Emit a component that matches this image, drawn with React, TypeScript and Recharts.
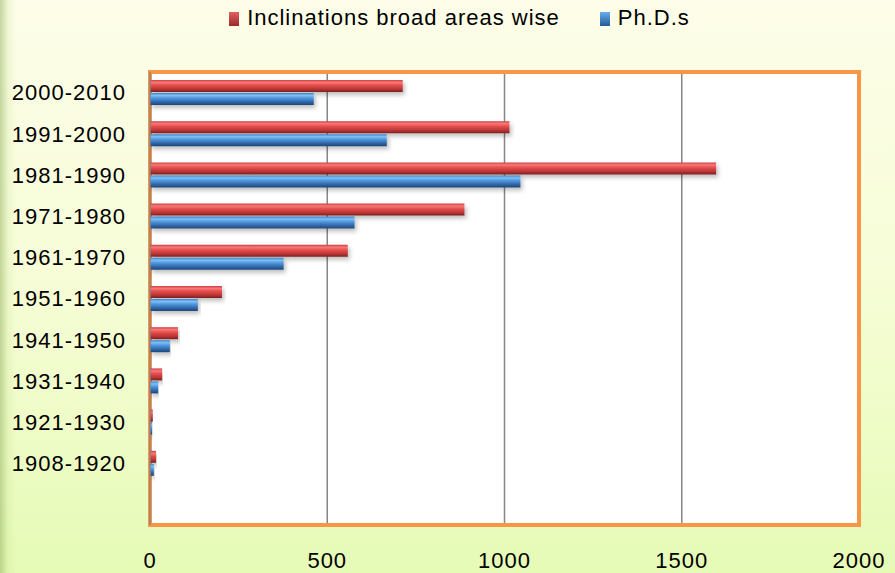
import * as R from 'recharts';
import { BarChart, Bar, XAxis, YAxis, CartesianGrid, Legend } from 'recharts';

const decades = [
  '2000-2010',
  '1991-2000',
  '1981-1990',
  '1971-1980',
  '1961-1970',
  '1951-1960',
  '1941-1950',
  '1931-1940',
  '1921-1930',
  '1908-1920',
];
const inclinations = [713, 1014, 1597, 887, 558, 203, 79, 34, 8, 17];
const phds = [462, 668, 1045, 577, 377, 135, 56, 23, 6, 11];
const xTicks = [0, 500, 1000, 1500, 2000];

const seriesNames = ['Inclinations broad areas wise', 'Ph.D.s'];

const data = decades.map((d, i) => ({ decade: d, inclinations: inclinations[i], phds: phds[i] }));

const font = '"Liberation Sans", Arial, sans-serif';

const usePlotArea: () => any = (R as any).usePlotArea || (() => null);

// orange frame around the plot area (padding included)
function PlotFrame() {
  const area = usePlotArea();
  if (!area) return null;
  return (
    <rect
      x={area.x}
      y={area.y}
      width={area.width}
      height={area.height}
      fill="none"
      stroke="#f79646"
      strokeWidth={4}
    />
  );
}

function LegendContent() {
  const swatch = (grad: string) => ({
    display: 'inline-block',
    width: 10,
    height: 14,
    background: grad,
    marginRight: 8,
    verticalAlign: 'middle',
  });
  return (
    <div
      style={{
        display: 'flex',
        justifyContent: 'center',
        fontFamily: font,
        fontSize: 22,
        letterSpacing: 1,
        color: '#000',
        paddingLeft: 60,
      }}
    >
      <span style={{ marginRight: 40 }}>
        <span style={swatch('linear-gradient(#e36060, #9b2a2a)')} />
        {seriesNames[0]}
      </span>
      <span>
        <span style={swatch('linear-gradient(#68aef0, #245b96)')} />
        {seriesNames[1]}
      </span>
    </div>
  );
}

export default function App() {
  return (
    <div
      style={{
        position: 'absolute',
        left: 0,
        top: 0,
        width: 895,
        height: 573,
        background:
          'linear-gradient(to right, rgba(150,180,100,0.55) 0px, rgba(200,225,150,0.25) 8px, rgba(255,255,255,0) 16px), linear-gradient(#fdfde9 0%, #f6fdd6 50%, #e6fbb6 100%)',
      }}
    >
      <BarChart
        width={895}
        height={573}
        data={data}
        layout="vertical"
        margin={{ top: 36, right: 36, bottom: 0, left: 0 }}
        barGap={1}
        barCategoryGap={0}
      >
        <defs>
          <linearGradient id="redGrad" x1="0" y1="0" x2="0" y2="1">
            <stop offset="0%" stopColor="#cc4040" />
            <stop offset="20%" stopColor="#f87878" />
            <stop offset="45%" stopColor="#e44c4c" />
            <stop offset="75%" stopColor="#bb3636" />
            <stop offset="100%" stopColor="#7a2020" />
          </linearGradient>
          <linearGradient id="blueGrad" x1="0" y1="0" x2="0" y2="1">
            <stop offset="0%" stopColor="#3f7fc4" />
            <stop offset="20%" stopColor="#7cc0f6" />
            <stop offset="45%" stopColor="#4f93db" />
            <stop offset="75%" stopColor="#2f67a8" />
            <stop offset="100%" stopColor="#1f4675" />
          </linearGradient>
          <filter id="barShadow" x="-5%" y="-30%" width="110%" height="190%">
            <feDropShadow dx="2" dy="3" stdDeviation="2" floodColor="#000" floodOpacity="0.25" />
          </filter>
        </defs>
        <Legend verticalAlign="top" height={36} content={<LegendContent />} wrapperStyle={{ top: 5 }} />
        <CartesianGrid horizontal={false} vertical stroke="#868686" strokeWidth={1.5} fill="#ffffff" />
        <XAxis
          type="number"
          domain={[0, 2000]}
          ticks={xTicks}
          axisLine={false}
          tickLine={false}
          tickSize={0}
          tickMargin={27}
          height={48}
          tick={{ fill: '#000', fontSize: 22, fontFamily: font, letterSpacing: 1 }}
          interval={0}
        />
        <YAxis
          type="category"
          dataKey="decade"
          width={150}
          axisLine={{ stroke: '#868686', strokeWidth: 1.5 }}
          tickLine={false}
          tickSize={0}
          tickMargin={24}
          padding={{ top: 0, bottom: 41 }}
          tick={{ fill: '#000', fontSize: 22, fontFamily: font, letterSpacing: 1 }}
          interval={0}
        />
        <Bar
          dataKey="inclinations"
          name={seriesNames[0]}
          fill="url(#redGrad)"
          barSize={12}
          filter="url(#barShadow)"
          isAnimationActive={false}
        />
        <Bar
          dataKey="phds"
          name={seriesNames[1]}
          fill="url(#blueGrad)"
          barSize={12}
          filter="url(#barShadow)"
          isAnimationActive={false}
        />
        <PlotFrame />
      </BarChart>
    </div>
  );
}
